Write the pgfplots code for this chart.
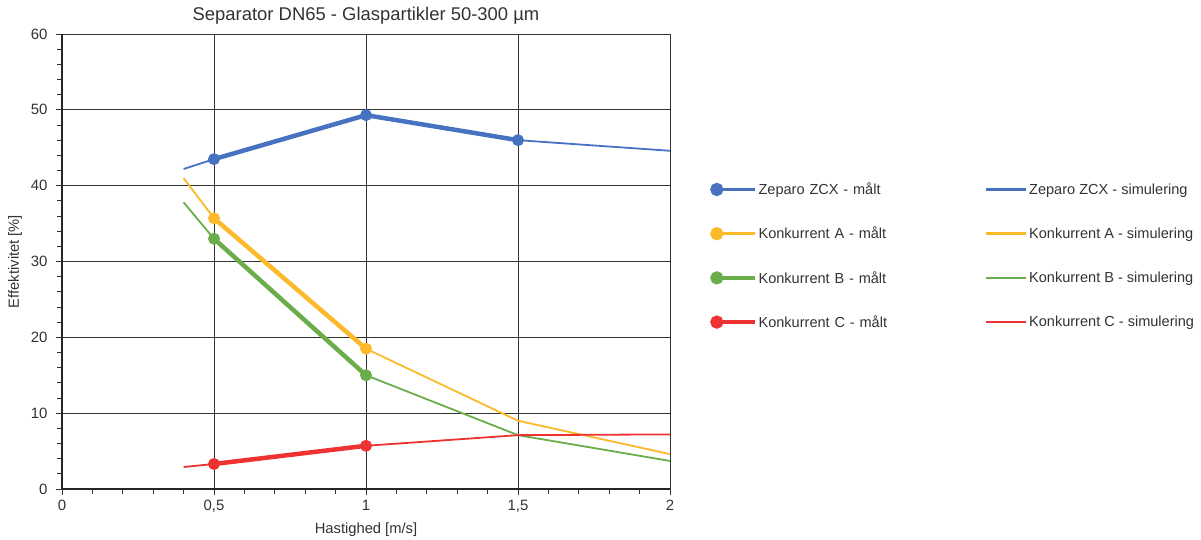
\documentclass[border=0pt]{standalone}
\usepackage{pgfplots}
\pgfplotsset{compat=1.18}
\usepackage{fontspec}
\setmainfont{Liberation Sans}
\definecolor{cBlue}{HTML}{4672C1}
\definecolor{cYellow}{HTML}{FCB92A}
\definecolor{cGreen}{HTML}{6AAD4A}
\definecolor{cRed}{HTML}{EE3232}
\definecolor{txt}{HTML}{333333}
\pgfplotsset{
  maalt/.style={line width=4.5bp, mark=*, mark size=3.6bp, mark options={solid},
    legend image code/.code={
      \draw[##1, line width=3.5bp, mark=none] (0bp,0bp) -- (38bp,0bp);
      \fill[##1] (0bp,0bp) circle (4.3bp);}},
  simu/.style={line width=1.8bp, mark=none,
    legend image code/.code={
      \draw[##1, line width=2.6bp] (0bp,0bp) -- (40bp,0bp);}},
}
\begin{document}
\begin{tikzpicture}
\begin{axis}[
  name=ax,
  scale only axis, width=608bp, height=455bp,
  xmin=0, xmax=2, ymin=0, ymax=60,
  axis lines*=left,
  axis line style={line width=1.8bp, color=black!85},
  xtick={0,0.5,1,1.5,2}, ytick={0,10,...,60},
  minor x tick num=4, minor y tick num=4,
  tick align=outside, major tick length=6bp, minor tick length=5bp,
  every tick/.style={black!80, line width=0.8bp},
  grid=major, major grid style={black!80, line width=0.8bp},
  /pgf/number format/use comma,
  /pgf/number format/assume math mode=true,
  ticklabel style={font=\fontsize{15}{17}\selectfont, text=txt},
  xticklabel style={yshift=-2bp},
  yticklabel style={xshift=-5bp},
  title={Separator DN65 - Glaspartikler 50-300 µm},
  title style={font=\fontsize{18.5}{20}\selectfont, text=txt, yshift=0bp},
  xlabel={Hastighed [m/s]},
  ylabel={Effektivitet [\%]},
  label style={font=\fontsize{14.8}{17}\selectfont, text=txt},
  xlabel style={yshift=-3bp},
  ylabel style={yshift=2bp},
  legend columns=2,
  legend cell align=left,
  legend style={at={(1.061,0.682)}, anchor=north west, draw=none, fill=none,
    font=\fontsize{14.6}{17}\selectfont, text=txt, row sep=27bp,
    /tikz/column 2/.style={text width=224bp}},
]
\addplot[maalt, cBlue] coordinates {(0.5,43.5) (1,49.3) (1.5,46.0)};
\addlegendentry{Zeparo ZCX - målt}
\addplot[simu, cBlue] coordinates {(0.4,42.2) (0.5,43.5) (1,49.3) (1.5,46.0) (2,44.6)};
\addlegendentry{Zeparo ZCX - simulering}
\addplot[maalt, cYellow] coordinates {(0.5,35.7) (1,18.5)};
\addlegendentry{Konkurrent A - målt}
\addplot[simu, cYellow] coordinates {(0.4,41.0) (0.5,35.7) (1,18.5) (1.5,9.0) (2,4.6)};
\addlegendentry{Konkurrent A - simulering}
\addplot[maalt, cGreen] coordinates {(0.5,33.0) (1,15.0)};
\addlegendentry{Konkurrent B - målt}
\addplot[simu, cGreen] coordinates {(0.4,37.8) (0.5,33.0) (1,15.0) (1.5,7.1) (2,3.7)};
\addlegendentry{Konkurrent B - simulering}
\addplot[maalt, cRed] coordinates {(0.5,3.3) (1,5.7)};
\addlegendentry{Konkurrent C - målt}
\addplot[simu, cRed] coordinates {(0.4,2.9) (0.5,3.3) (1,5.7) (1.5,7.1) (2,7.2)};
\addlegendentry{Konkurrent C - simulering}
\end{axis}
\pgfresetboundingbox
\path ([xshift=-62bp,yshift=-51bp]ax.south west) rectangle ([xshift=1139bp,yshift=489bp]ax.south west);
\end{tikzpicture}
\end{document}
